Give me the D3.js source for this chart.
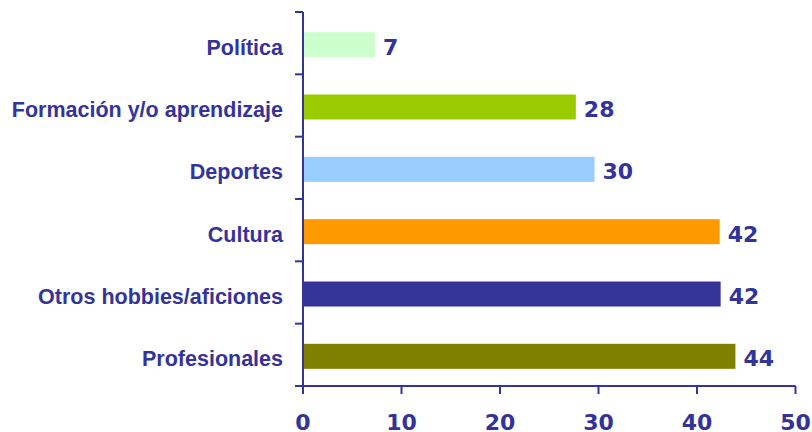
<!DOCTYPE html>
<html>
<head>
<meta charset="utf-8">
<script src="https://cdn.jsdelivr.net/npm/d3@7"></script>
<style>
  html, body { margin: 0; padding: 0; background: #ffffff; }
  svg { display: block; }
  text { font-family: "Liberation Sans", Arial, sans-serif; font-weight: bold; fill: #333399; }
  text.num { font-family: "DejaVu Sans", sans-serif; }
</style>
</head>
<body>
<svg id="chart" width="812" height="432"></svg>
<script>
const categories = ["Política", "Formación y/o aprendizaje", "Deportes", "Cultura", "Otros hobbies/aficiones", "Profesionales"];
const values = [7.3, 27.7, 29.6, 42.3, 42.4, 43.9];
const valueLabels = ["7", "28", "30", "42", "42", "44"];
const barColors = ["#CCFFCC", "#99CC00", "#99CCFF", "#FF9900", "#333399", "#808000"];
const xTicks = [0, 10, 20, 30, 40, 50];

const svg = d3.select("#chart");
const axisColor = "#333399";

const x = d3.scaleLinear().domain([0, 50]).range([303, 795.5]);
const y = d3.scaleBand().domain(categories).range([12, 386]).paddingInner(0).paddingOuter(0);
const barH = 25;

// bars
svg.selectAll("rect.bar")
  .data(categories)
  .enter().append("rect")
  .attr("class", "bar")
  .attr("x", x(0))
  .attr("y", d => y(d) + y.bandwidth() / 2 - barH / 2 + 1.5)
  .attr("width", (d, i) => x(values[i]) - x(0))
  .attr("height", barH)
  .attr("fill", (d, i) => barColors[i]);

// value labels
svg.selectAll("text.val")
  .data(categories)
  .enter().append("text")
  .attr("class", "val num")
  .attr("x", (d, i) => x(values[i]) + 8)
  .attr("y", d => y(d) + y.bandwidth() / 2 + 1.5 + 10)
  .attr("font-size", 22)
  .text((d, i) => valueLabels[i]);

// category labels
svg.selectAll("text.cat")
  .data(categories)
  .enter().append("text")
  .attr("class", "cat")
  .attr("x", 283)
  .attr("y", d => y(d) + y.bandwidth() / 2 + 1.5 + 10)
  .attr("text-anchor", "end")
  .attr("font-size", 21.5)
  .text(d => d);

// y axis line + category ticks
const yTickPos = categories.map(c => y(c)).concat([386]);
svg.append("line")
  .attr("x1", x(0)).attr("x2", x(0))
  .attr("y1", 12).attr("y2", 386)
  .attr("stroke", axisColor).attr("stroke-width", 2);
svg.selectAll("line.ytick")
  .data(yTickPos)
  .enter().append("line")
  .attr("class", "ytick")
  .attr("x1", 295).attr("x2", x(0))
  .attr("y1", d => d).attr("y2", d => d)
  .attr("stroke", axisColor).attr("stroke-width", 2);

// x axis
svg.append("line")
  .attr("x1", 295).attr("x2", x(50))
  .attr("y1", 386).attr("y2", 386)
  .attr("stroke", axisColor).attr("stroke-width", 2);
svg.selectAll("line.xtick")
  .data(xTicks)
  .enter().append("line")
  .attr("class", "xtick")
  .attr("x1", d => x(d)).attr("x2", d => x(d))
  .attr("y1", 386).attr("y2", 394)
  .attr("stroke", axisColor).attr("stroke-width", 2);
svg.selectAll("text.xlab")
  .data(xTicks)
  .enter().append("text")
  .attr("class", "xlab num")
  .attr("x", d => x(d))
  .attr("y", 430)
  .attr("text-anchor", "middle")
  .attr("font-size", 22)
  .text(d => d);
</script>
</body>
</html>
